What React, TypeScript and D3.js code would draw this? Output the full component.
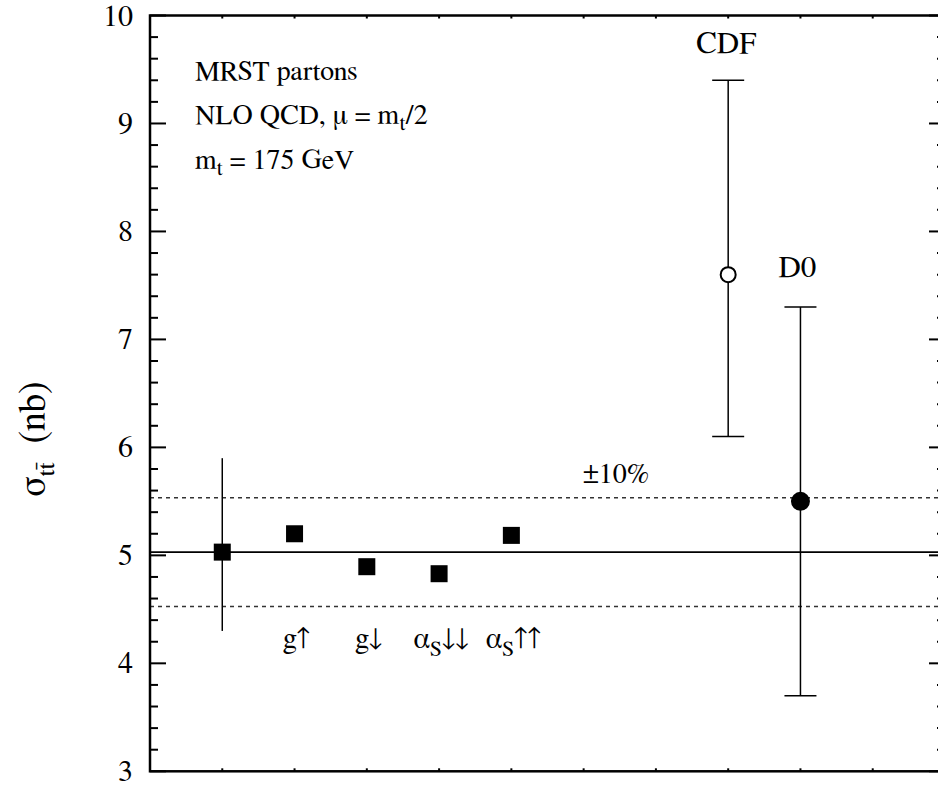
import React from "react";
import * as d3 from "d3";

const W = 938, H = 786;

// theory points (MRST variants)
const theoryX = [1, 2, 3, 4, 5];
const theoryY = [5.03, 5.2, 4.895, 4.83, 5.185];
const theoryBase = ["", "g", "g", "α", "α"];
const theorySub = ["", "", "", "S", "S"];
const theoryArrows = ["", "↑", "↓", "↓↓", "↑↑"];
const theoryErr = [4.3, 5.9]; // on the central point
const centralValue = 5.03;
const bandFrac = 0.1;

// experiments
const expNames = ["CDF", "D0"];
const expX = [8, 9];
const expY = [7.6, 5.5];
const expLo = [6.1, 3.7];
const expHi = [9.4, 7.3];
const expFilled = [false, true];

const yTicks = [3, 4, 5, 6, 7, 8, 9, 10];
const xTicks = [1, 2, 3, 4, 5, 6, 7, 8, 9, 10];

const CSS = `
svg text, svg tspan { font-family: "FreeSerif" !important; }
`;
const FS = { fontFamily: '"FreeSerif"' };

export default function App() {
  const left = 150, top = 15.5, bottom = 771.3, right = 945;
  const x = d3.scaleLinear().domain([0, 11]).range([left, right]);
  const y = d3.scaleLinear().domain([3, 10]).range([bottom, top]);
  const minor = d3.range(3, 10.0001, 0.2).map((v) => Math.round(v * 10) / 10);
  const sq = 17;

  return (
    <svg width={W} height={H} style={{ position: "absolute", left: 0, top: 0, background: "#fff" }}>
      <style>{CSS}</style>
      <rect x={0} y={0} width={W} height={H} fill="#fff" />
      {/* band lines */}
      <line x1={left} x2={right} y1={y(centralValue)} y2={y(centralValue)} stroke="#000" strokeWidth={1.8} />
      {[1 + bandFrac, 1 - bandFrac].map((f, i) => (
        <line key={i} x1={left} x2={right} y1={y(centralValue * f)} y2={y(centralValue * f)}
          stroke="#333" strokeWidth={1.5} strokeDasharray="4,4" />
      ))}
      {/* theory error bar */}
      <line x1={x(theoryX[0])} x2={x(theoryX[0])} y1={y(theoryErr[0])} y2={y(theoryErr[1])} stroke="#000" strokeWidth={1.5} />
      {theoryX.map((tx, i) => (
        <rect key={i} x={x(tx) - sq / 2} y={y(theoryY[i]) - sq / 2} width={sq} height={sq} fill="#000" />
      ))}
      {theoryX.map((tx, i) =>
        theoryBase[i] ? (
          <text key={i} x={x(tx) + 2} y={648} fontSize={29} textAnchor="middle" style={FS}>
            {theoryBase[i]}
            {theorySub[i] ? <tspan fontSize={22} dy={8} style={FS}>{theorySub[i]}</tspan> : null}
            <tspan dy={theorySub[i] ? -8 : 0} style={FS}>{theoryArrows[i]}</tspan>
          </text>
        ) : null
      )}
      {/* experiments */}
      {expX.map((ex, i) => (
        <g key={i}>
          <line x1={x(ex)} x2={x(ex)} y1={y(expLo[i])} y2={y(expHi[i])} stroke="#000" strokeWidth={1.5} />
          <line x1={x(ex) - 16} x2={x(ex) + 16} y1={y(expHi[i])} y2={y(expHi[i])} stroke="#000" strokeWidth={1.5} />
          <line x1={x(ex) - 16} x2={x(ex) + 16} y1={y(expLo[i])} y2={y(expLo[i])} stroke="#000" strokeWidth={1.5} />
          <circle cx={x(ex)} cy={y(expY[i])} r={expFilled[i] ? 8.5 : 7.5}
            fill={expFilled[i] ? "#000" : "#fff"} stroke="#000" strokeWidth={2} />
        </g>
      ))}
      <text x={x(expX[0]) - 2} y={53} fontSize={31} textAnchor="middle" style={FS}>{expNames[0]}</text>
      <text x={x(expX[1]) - 3} y={277} fontSize={31} textAnchor="middle" style={FS}>{expNames[1]}</text>
      <text x={583} y={483} fontSize={28} style={FS}>±10%</text>
      {/* info text */}
      <text x={195} y={80} fontSize={28} style={FS}>MRST partons</text>
      <text x={195} y={124} fontSize={28} style={FS}>
        NLO QCD, μ = m<tspan fontSize={21} dy={6} style={FS}>t</tspan><tspan dy={-6} style={FS}>/2</tspan>
      </text>
      <text x={195} y={169} fontSize={28} style={FS}>
        m<tspan fontSize={21} dy={6} style={FS}>t</tspan><tspan dy={-6} style={FS}> = 175 GeV</tspan>
      </text>
      {/* axes ticks */}
      {minor.map((v, i) => {
        const isMajor = Math.abs(v - Math.round(v)) < 1e-6;
        const len = isMajor ? 16 : 8;
        return (
          <g key={i}>
            <line x1={left} x2={left + len} y1={y(v)} y2={y(v)} stroke="#000" strokeWidth={2} />
            <line x1={right} x2={right - len} y1={y(v)} y2={y(v)} stroke="#000" strokeWidth={2} />
          </g>
        );
      })}
      {xTicks.map((t) => (
        <g key={t}>
          <line x1={x(t)} x2={x(t)} y1={top} y2={top + 3} stroke="#000" strokeWidth={2} />
          <line x1={x(t)} x2={x(t)} y1={bottom} y2={bottom - 3} stroke="#000" strokeWidth={2} />
        </g>
      ))}
      <rect x={left} y={top} width={right - left} height={bottom - top} fill="none" stroke="#000" strokeWidth={2.5} />
      {yTicks.map((t) => (
        <text key={t} x={133} y={y(t) + 10} fontSize={30} textAnchor="end" style={FS}>{t}</text>
      ))}
      {/* y label */}
      <text transform="translate(45,497) rotate(-90)" fontSize={38} style={FS}>
        σ<tspan fontSize={25} dy={9} style={FS}>tt̄</tspan><tspan dy={-9} style={FS}>{"\u00a0\u00a0(nb)"}</tspan>
      </text>
    </svg>
  );
}
